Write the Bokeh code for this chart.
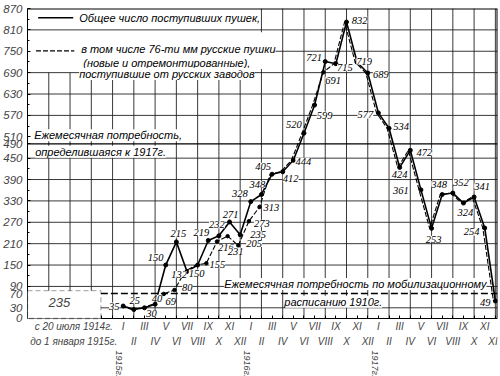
from bokeh.plotting import figure
from bokeh.models import (ColumnDataSource, FixedTicker, LinearAxis, Label, LabelSet,
                          BoxAnnotation, Range1d)
from bokeh.transform import dodge
from bokeh.embed import file_html
from bokeh.resources import INLINE

# ---------------- data ----------------
ROMAN = ["I", "II", "III", "IV", "V", "VI", "VII", "VIII", "IX", "X", "XI", "XII"]
YEARS = ["1915г.", "1916г.", "1917г."]
YEAR_START = [0, 12, 24]                      # month index of January of each year
months = list(range(36))                      # 0 = January 1915
total = [35, 25, 30, 40, 150, 215, 132, 150, 219, 232, 271, 235,
         328, 348, 405, 412, 444, 520, 599, 721, 715, 832, 719, 689,
         577, 534, 424, 472, 361, 253, 348, 352, 324, 341, 254, 49]
russian76 = [35, 25, 30, 40, 69, 80, 132, 150, 155, 216, 231, 205,
             273, 313, 405, 412, 444, 520, 599, 691, 715, 832, 719, 689,
             577, 534, 424, 472, 361, 253, 348, 352, 324, 341, 254, 49]
before_1915_total = 235
period_1914 = ["с 20 июля 1914г.", "до 1 января 1915г."]
need_1917 = 490
need_1910 = 70
y_ticks = [0, 30, 70, 90, 150, 210, 270, 330, 390, 450, 490, 510, 570, 630, 690, 750, 810, 870]
h_grid = [30, 90, 150, 210, 270, 330, 390, 450, 570, 630, 690, 750, 810]

# ---------------- layout / style ----------------
FONT = "Liberation Sans"
X0, X1 = -9, 35.2
Y_TOP = 870
Y_BOTTOM = -162.8           # room under the axis for the month / year labels
# label offsets (screen px: dx right, dy down)
tot_off = [(-9, 0), (1, -9), (7, 6), (2, -6), (-10, -8), (2, -8), (-8, 3), (-1, 8),
           (-7, -8), (-2, -11), (1, -7), (18, 0), (-11, -8), (-4, -10), (-9, -8), (8, 7),
           (10, 1), (-10, -9), (10, 10), (-11, -4), (9, 4), (13, -2), (7, -1), (13, 2),
           (-13, 2), (12, -2), (0, 7), (14, 2), (-20, 1), (2, 11), (-3, -10), (8, -11),
           (2, 9), (8, -10), (-13, 4), (-10, 1)]
rus_off = [(5, 8), (11, -2), (9, 1), (7, 6), (6, 15), (14, -2), (11, 2), (10, 1), (8, 8)]

p = figure(width=500, height=376, x_range=Range1d(X0, X1), y_range=Range1d(Y_BOTTOM, Y_TOP),
           output_backend="svg", toolbar_location=None,
           min_border_left=27, min_border_right=3, min_border_top=8, min_border_bottom=0)
p.xgrid.visible = False
p.ygrid.visible = False
p.outline_line_color = None
p.background_fill_color = "white"
p.border_fill_color = "white"

GRID_C = "#222222"
# vertical grid lines every second month
vg = list(range(-7, 36, 2))
p.segment(x0=vg, x1=vg, y0=[0] * len(vg), y1=[690 if m < 13 else Y_TOP for m in vg],
          line_color=GRID_C, line_width=0.9)
# horizontal grid lines
p.segment(x0=[X0] * len(h_grid), x1=[X1] * len(h_grid), y0=h_grid, y1=h_grid,
          line_color=GRID_C, line_width=0.9)
# frame: top and right edges
p.segment(x0=[X0, X1], x1=[X1, X1], y0=[Y_TOP, 0], y1=[Y_TOP, Y_TOP],
          line_color="black", line_width=2)
# white legend area
p.quad(left=[X0], right=[13.15], bottom=[700], top=[803], fill_color="white", line_color=None)

# need lines
p.segment(x0=[X0], x1=[X1], y0=[need_1917], y1=[need_1917], line_color="black", line_width=1.1)
p.segment(x0=[-2.1], x1=[X1], y0=[need_1910], y1=[need_1910], line_color="black",
          line_width=1.4, line_dash="7 3")

# legend samples
p.segment(x0=[-8.0], x1=[-4.7], y0=[844], y1=[844], line_color="black", line_width=1.6)
p.segment(x0=[-8.2], x1=[-4.6], y0=[751], y1=[751], line_color="black", line_width=1.1,
          line_dash="5 2")

# data lines
src = ColumnDataSource(dict(m=months, total=total, rus=russian76,
                            lbl=[str(v) for v in total],
                            dx=[o[0] for o in tot_off], dy=[-o[1] for o in tot_off]))
p.line(x=dodge("m", -0.18), y="rus", source=src, line_color="black", line_width=1.1,
       line_dash="5 2")
p.line("m", "total", source=src, line_color="black", line_width=1.6)
p.scatter("m", "total", source=src, size=4, color="black")

idx = [i for i in months if russian76[i] != total[i]]
rsrc = ColumnDataSource(dict(m=[months[i] for i in idx], rus=[russian76[i] for i in idx],
                             lbl=[str(russian76[i]) for i in idx],
                             dx=[o[0] for o in rus_off], dy=[-o[1] for o in rus_off]))
p.scatter(x=dodge("m", -0.18), y="rus", source=rsrc, size=3.5, color="black")

lab_kw = dict(text_font=FONT, text_font_style="italic", text_font_size="10.5px",
              text_align="center", text_baseline="middle", text_color="black",
              background_fill_color="white")
p.add_layout(LabelSet(x="m", y="total", text="lbl", x_offset="dx", y_offset="dy",
                      source=src, **lab_kw))
p.add_layout(LabelSet(x="m", y="rus", text="lbl", x_offset="dx", y_offset="dy",
                      source=rsrc, **lab_kw))

# 1914 box
p.add_layout(BoxAnnotation(left=X0, right=-2.1, bottom=0, top=78, fill_color="white",
                           fill_alpha=1, line_color="black", line_width=1.3, line_dash="5 3"))
p.add_layout(Label(x=-6.0, y=44, text=str(before_1915_total), text_font=FONT,
                   text_font_style="italic", text_font_size="13px",
                   text_align="center", text_baseline="middle"))

# texts
def txt(x, y, s, size="11px"):
    p.add_layout(Label(x=x, y=y, text=s, text_font=FONT, text_font_style="italic",
                       text_font_size=size, text_align="left", text_baseline="middle",
                       text_color="black", background_fill_color="white"))

txt(-4.14, 844, "Общее число поступивших пушек,")
txt(-3.95, 757, "в том числе 76-ти мм русские пушки")
txt(-3.76, 717, "(новые и отремонтированные),")
txt(-4.14, 686, "поступившие от русских заводов")
txt(-8.37, 514, "Ежемесячная потребность,")
txt(-8.28, 468, "определившаяся к 1917г.")
txt(9.5, 97, "Ежемесячная потребность по мобилизационному")
txt(15.15, 47, "расписанию 1910г.")

# axes
yax = p.yaxis[0]
yax.bounds = (0, Y_TOP)
yax.ticker = FixedTicker(ticks=y_ticks,
                         minor_ticks=[60, 120, 180, 240, 300, 360, 420, 540, 600, 660, 720, 780, 840])
yax.major_label_text_font = FONT
yax.major_label_text_font_style = "italic"
yax.major_label_text_font_size = "11.5px"
yax.major_tick_in = 3
yax.major_tick_out = 0
yax.minor_tick_in = 2
yax.minor_tick_out = 0
yax.major_label_standoff = 5
yax.axis_line_color = "black"

# month axis: odd months on the first row, even months on the second row
P1 = -4.65                   # label centre of the 1914 period text
xax = p.xaxis[0]
xax.fixed_location = 0
xax.ticker = FixedTicker(ticks=[P1] + months, minor_ticks=list(range(-8, 0)))
ov1 = {m: (ROMAN[m % 12] if m % 2 == 0 else "\n" + ROMAN[m % 12]) for m in months}
ov1[P1] = "\n".join(period_1914)
xax.major_label_overrides = ov1
xax.major_label_text_font = FONT
xax.major_label_text_font_style = "italic"
xax.major_label_text_font_size = "10px"
xax.major_label_text_line_height = 1.3
xax.major_tick_in = 3
xax.major_tick_out = 0
xax.minor_tick_in = 3
xax.minor_tick_out = 0
xax.major_label_standoff = 3
xax.axis_line_color = "black"
xax.axis_line_width = 1.2

yt = [y - 0.35 for y in YEAR_START]
xax3 = LinearAxis(ticker=FixedTicker(ticks=yt, minor_ticks=[]),
                  major_label_overrides={t: s for t, s in zip(yt, YEARS)},
                  major_label_orientation="vertical", fixed_location=0,
                  axis_line_color=None, major_tick_line_color=None, minor_tick_line_color=None,
                  major_label_standoff=26, major_label_text_font=FONT,
                  major_label_text_font_style="italic", major_label_text_font_size="9px")
p.add_layout(xax3, "below")

open("out.html", "w").write(file_html(p, INLINE))
